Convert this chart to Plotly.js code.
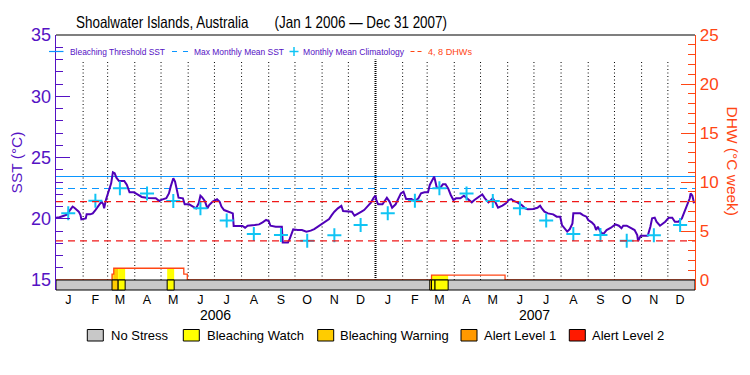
<!DOCTYPE html>
<html>
<head>
<meta charset="utf-8">
<script src="https://cdn.plot.ly/plotly-3.0.1.min.js"></script>
<style>html,body{margin:0;padding:0;background:#fff;}#chart{width:750px;height:375px;}</style>
</head>
<body>
<div id="chart"></div>
<script>
// ---------------- DATA ----------------
const sstDates = ['2006-01-01','2006-01-05','2006-01-10','2006-01-14','2006-01-17','2006-01-20','2006-01-22','2006-01-25','2006-01-27','2006-01-29','2006-01-30',
'2006-02-04','2006-02-05','2006-02-09','2006-02-12','2006-02-15','2006-02-19','2006-02-22','2006-02-24','2006-02-25','2006-02-27',
'2006-03-01','2006-03-03','2006-03-05','2006-03-07','2006-03-09','2006-03-11','2006-03-14','2006-03-20','2006-03-23','2006-03-26','2006-03-31',
'2006-04-04','2006-04-09','2006-04-16','2006-04-21','2006-04-25','2006-04-29',
'2006-05-02','2006-05-07','2006-05-10','2006-05-12','2006-05-15','2006-05-17','2006-05-19','2006-05-21','2006-05-26','2006-05-28',
'2006-06-02','2006-06-06','2006-06-10','2006-06-13','2006-06-15','2006-06-17','2006-06-20','2006-06-23','2006-06-25','2006-06-29',
'2006-07-04','2006-07-07','2006-07-09','2006-07-12','2006-07-16','2006-07-22','2006-07-23',
'2006-08-02','2006-08-05','2006-08-08','2006-08-16','2006-08-21','2006-08-25','2006-08-29',
'2006-09-01','2006-09-03','2006-09-09','2006-09-16','2006-09-17','2006-09-23','2006-09-25','2006-09-27','2006-09-29',
'2006-10-04','2006-10-09','2006-10-14','2006-10-19','2006-10-23','2006-10-29',
'2006-11-04','2006-11-09','2006-11-12','2006-11-15','2006-11-19','2006-11-23','2006-11-25','2006-11-30',
'2006-12-05','2006-12-08','2006-12-12','2006-12-16','2006-12-19','2006-12-23','2006-12-27','2006-12-30',
'2007-01-01','2007-01-02','2007-01-04','2007-01-09','2007-01-11','2007-01-14','2007-01-17','2007-01-20','2007-01-24','2007-01-27','2007-01-30',
'2007-02-02','2007-02-05','2007-02-11','2007-02-15','2007-02-19','2007-02-22','2007-02-26',
'2007-03-02','2007-03-04','2007-03-06','2007-03-09','2007-03-10','2007-03-12','2007-03-16','2007-03-19','2007-03-22','2007-03-25','2007-03-28','2007-03-31',
'2007-04-03','2007-04-08','2007-04-12','2007-04-16','2007-04-21','2007-04-24','2007-04-29',
'2007-05-03','2007-05-06','2007-05-10','2007-05-13','2007-05-15','2007-05-18','2007-05-21','2007-05-26','2007-05-30',
'2007-06-02','2007-06-05','2007-06-08','2007-06-12','2007-06-17','2007-06-21','2007-06-24','2007-06-30',
'2007-07-05','2007-07-08','2007-07-10','2007-07-13','2007-07-17','2007-07-23','2007-07-27','2007-07-31',
'2007-08-02','2007-08-05','2007-08-08','2007-08-11','2007-08-14','2007-08-15','2007-08-23','2007-08-26','2007-08-30',
'2007-09-01','2007-09-05','2007-09-08','2007-09-10','2007-09-12','2007-09-15','2007-09-18','2007-09-22','2007-09-27',
'2007-10-02','2007-10-06','2007-10-09','2007-10-11','2007-10-15','2007-10-19','2007-10-24','2007-10-27','2007-10-28','2007-10-31',
'2007-11-08','2007-11-11','2007-11-13','2007-11-16','2007-11-18','2007-11-22','2007-11-28',
'2007-12-02','2007-12-06','2007-12-09','2007-12-13','2007-12-17','2007-12-20','2007-12-23','2007-12-26','2007-12-27','2007-12-29','2007-12-31'];
const sstValues = [20.09,20.12,20.25,20.36,20.71,20.99,20.9,20.71,20.58,20.3,19.95,
20.03,20.36,20.36,20.44,20.71,21.12,21.4,21.18,20.85,21.53,
21.94,22.35,22.89,23.79,23.71,23.35,23.08,23.08,22.76,22.16,22.16,
21.99,21.78,21.69,21.69,21.67,21.45,
21.56,21.67,22.07,22.62,23.3,23.03,22.43,21.72,21.67,21.18,
21.18,20.99,20.85,21.26,21.88,21.75,21.45,20.85,21.12,21.4,
21.59,21.39,20.99,20.71,20.58,20.44,19.41,
19.41,19.27,19.43,19.49,19.54,19.71,19.9,
19.82,19.43,19.35,19.35,18.07,18.07,18.35,18.81,19.14,
19.08,19.08,18.95,19.03,19.16,19.43,
19.71,19.98,20.3,20.58,20.85,21.05,20.63,20.58,
20.58,20.25,20.39,20.58,20.71,20.99,21.34,21.72,
21.88,21.53,21.18,21.18,21.4,21.72,21.4,20.9,21.18,21.67,22.07,
22.21,21.61,21.61,21.45,21.67,22.07,22.16,
22.16,22.76,23.08,23.44,23.16,22.54,22.54,22.81,22.81,22.48,21.94,21.53,
21.67,21.67,21.88,21.67,21.34,21.53,21.8,
21.99,21.67,21.34,21.53,21.67,21.34,20.9,21.07,21.26,
21.53,21.61,21.45,21.34,21.12,20.85,20.77,20.8,
20.9,21.07,20.85,20.58,20.44,20.36,20.17,20.17,
19.49,19.22,18.95,19.16,19.62,20.44,20.44,20.3,20.17,
19.9,19.71,19.49,19.08,19.35,18.95,18.73,19.08,19.27,
19.54,19.43,19.22,19.43,19.43,19.27,19.08,18.67,18.18,18.62,
18.62,19.35,20.03,20.09,19.76,19.43,19.76,
20.09,20.09,19.76,19.76,20.03,20.58,21.18,21.67,22.07,21.88,21.26];

const climDates = ['2006-01-15','2006-02-15','2006-03-15','2006-04-15','2006-05-15','2006-06-15','2006-07-15','2006-08-15','2006-09-15','2006-10-15','2006-11-15','2006-12-15',
'2007-01-15','2007-02-15','2007-03-15','2007-04-15','2007-05-15','2007-06-15','2007-07-15','2007-08-15','2007-09-15','2007-10-15','2007-11-15','2007-12-15'];
const climValues = [20.44,21.47,22.49,22.07,21.45,20.85,19.86,18.75,18.67,18.2,18.66,19.48,
20.44,21.47,22.49,22.07,21.45,20.85,19.86,18.75,18.67,18.2,18.66,19.48];

const bleachingThreshold = 23.45;
const maxMonthlyMean = 22.47;
const dhwLevels = [4, 8];

const dhwDates = ['2006-01-01','2006-03-06','2006-03-08','2006-05-27','2006-05-31','2007-03-06','2007-05-29','2008-01-01'];
const dhwValues = [0, 0.6, 1.2, 0.6, 0, 0.5, 0, 0];

const stressStart = ['2006-03-06','2006-03-13','2006-05-08','2007-03-04','2007-03-06','2007-03-10'];
const stressEnd   = ['2006-03-13','2006-03-21','2006-05-16','2007-03-06','2007-03-10','2007-03-25'];
const stressLevel = [2, 1, 1, 2, 1, 1];

const stressNames = ['No Stress','Bleaching Watch','Bleaching Warning','Alert Level 1','Alert Level 2'];
const monthLetters = ['J','F','M','A','M','J','J','A','S','O','N','D','J','F','M','A','M','J','J','A','S','O','N','D'];
const monthStarts = ['2006-02-01','2006-03-01','2006-04-01','2006-05-01','2006-06-01','2006-07-01','2006-08-01','2006-09-01','2006-10-01','2006-11-01','2006-12-01',
'2007-01-01','2007-02-01','2007-03-01','2007-04-01','2007-05-01','2007-06-01','2007-07-01','2007-08-01','2007-09-01','2007-10-01','2007-11-01','2007-12-01'];
const yearLabels = ['2006','2007'];
const yearCenters = ['2006-07-02','2007-07-02'];
const titleText = 'Shoalwater Islands, Australia\u00a0\u00a0\u00a0\u00a0\u00a0\u00a0\u00a0(Jan 1 2006 \u2014 Dec 31 2007)';
const legendLabels = ['Bleaching Threshold SST','Max Monthly Mean SST','Monthly Mean Climatology','4, 8 DHWs'];

// ---------------- STYLE ----------------
const PURPLE = '#5512c4';
const LINEPURPLE = '#5000b8';
const ORANGE = '#ff4614';
const BLUE = '#0a96ff';
const CYAN = '#10c4f4';
const RED = '#f01818';
const stressColors = ['#c8c8c8','#ffff00','#ffcc00','#ff9900','#ff1a00'];
const FONT = 'Liberation Sans, Arial, sans-serif';

const L = 56, R = 695, T = 35, B = 290;
const xp = px => (px - L) / (R - L);
const yp = py => (B - py) / (B - T);
const X0 = '2006-01-01', X1 = '2008-01-01';

const sstMin = 15 - 20 * 10 / 245;
const dhwMin = -25 * 10 / 245;

// ---------------- TRACES ----------------
const traces = [];
traces.push({x:[X0,X1], y:[bleachingThreshold,bleachingThreshold], mode:'lines', line:{color:BLUE,width:1.2}, hoverinfo:'skip'});
traces.push({x:[X0,X1], y:[maxMonthlyMean,maxMonthlyMean], mode:'lines', line:{color:BLUE,width:1.2,dash:'7px,5px'}, hoverinfo:'skip'});
dhwLevels.forEach(v => traces.push({x:[X0,X1], y:[v,v], yaxis:'y2', mode:'lines', line:{color:RED,width:1.2,dash:'7px,5px'}, hoverinfo:'skip'}));
traces.push({x:dhwDates, y:dhwValues, yaxis:'y2', mode:'lines', line:{color:ORANGE,width:1.3,shape:'hv'}});
traces.push({x:sstDates, y:sstValues, mode:'lines', line:{color:LINEPURPLE,width:2}});
traces.push({x:climDates, y:climValues, mode:'markers', marker:{symbol:'cross-thin-open', size:10, line:{color:CYAN,width:2}, color:CYAN}});

// ---------------- SHAPES ----------------
const shapes = [];
monthStarts.forEach(d => {
  const yearLine = d.endsWith('01-01');
  shapes.push({type:'line', xref:'x', yref:'y', x0:d, x1:d, y0:15, y1:33, layer:'below',
    line:{color:'#000', width: yearLine ? 2 : 1, dash: yearLine ? '1px,1px' : '1px,2.5px'}});
});
const t = s => Date.parse(s);
stressStart.forEach((s, i) => {
  const a = t(s), b = t(stressEnd[i]);
  for (let k = 0; k < dhwDates.length - 1; k++) {
    const sa = Math.max(a, t(dhwDates[k])), sb = Math.min(b, t(dhwDates[k+1]));
    if (sb > sa && dhwValues[k] > 0) {
      shapes.push({type:'rect', xref:'x', yref:'y2', x0:new Date(sa).toISOString(), x1:new Date(sb).toISOString(),
        y0:0, y1:dhwValues[k], fillcolor:stressColors[stressLevel[i]], line:{width:0}, layer:'below'});
    }
  }
});
shapes.push({type:'rect', xref:'x', yref:'paper', x0:X0, x1:X1, y0:0, y1:yp(280), fillcolor:stressColors[0], line:{color:'#000',width:1}, layer:'above'});
stressStart.forEach((s, i) => {
  shapes.push({type:'rect', xref:'x', yref:'paper', x0:s, x1:stressEnd[i], y0:0, y1:yp(280), fillcolor:stressColors[stressLevel[i]], line:{color:'#000',width:1}, layer:'above'});
});
shapes.push({type:'line', xref:'paper', yref:'paper', x0:0, x1:1, y0:1, y1:1, line:{color:'#000',width:1.2}});

const ly = yp(51.5);
shapes.push({type:'line', xref:'paper', yref:'paper', x0:xp(49), x1:xp(63.5), y0:ly, y1:ly, line:{color:BLUE,width:1.2}});
shapes.push({type:'line', xref:'paper', yref:'paper', x0:xp(172), x1:xp(188.5), y0:ly, y1:ly, line:{color:BLUE,width:1.2,dash:'5px,6px'}});
shapes.push({type:'line', xref:'paper', yref:'paper', x0:xp(289.5), x1:xp(298.5), y0:ly, y1:ly, line:{color:CYAN,width:1.5}});
shapes.push({type:'line', xref:'paper', yref:'paper', x0:xp(294), x1:xp(294), y0:yp(47), y1:yp(56), line:{color:CYAN,width:1.5}});
shapes.push({type:'line', xref:'paper', yref:'paper', x0:xp(410.5), x1:xp(422), y0:ly, y1:ly, line:{color:ORANGE,width:1.2,dash:'4px,3px'}});

const boxX = [87.3, 183.3, 317.7, 461, 569.3];
const textX = [109, 204.7, 338.3, 482.3, 590];
boxX.forEach((bx, i) => {
  shapes.push({type:'rect', xref:'paper', yref:'paper', x0:xp(bx), x1:xp(bx+16), y0:yp(341), y1:yp(329.5), fillcolor:stressColors[i], line:{color:'#000',width:1}});
});

// ---------------- ANNOTATIONS ----------------
const ann = [];
const legX = [67.5, 191.5, 300.5, 426];
const legW = [95, 90, 101, 44];
const legC = [PURPLE, PURPLE, PURPLE, ORANGE];
legendLabels.forEach((txt, i) => ann.push({xref:'paper', yref:'paper', x:xp(legX[i]), y:yp(51.5), xanchor:'left', yanchor:'middle',
  width:legW[i] + 2, align:'left', showarrow:false, text:txt, font:{family:FONT, size:9.5, color:legC[i]}}));
stressNames.forEach((n, i) => ann.push({xref:'paper', yref:'paper', x:xp(textX[i]), y:yp(335.5), xanchor:'left', yanchor:'middle', showarrow:false, text:n, font:{family:FONT, size:13, color:'#000'}}));
yearLabels.forEach((yl, i) => ann.push({xref:'x', yref:'paper', x:yearCenters[i], y:yp(315), xanchor:'center', yanchor:'middle', showarrow:false, text:yl, font:{family:FONT, size:14, color:'#000'}}));
ann.push({xref:'paper', yref:'paper', x:xp(732), y:yp(161.5), xanchor:'center', yanchor:'middle', showarrow:false, textangle:90, text:'DHW (°C week)', font:{family:FONT, size:15.5, color:ORANGE}});

const minorDhw = [];
for (let v = 1; v < 25; v++) if (v % 5) minorDhw.push(v);

const layout = {
  width:750, height:375,
  margin:{l:L, r:750-R, t:T, b:375-B, pad:0},
  paper_bgcolor:'#fff', plot_bgcolor:'#fff',
  showlegend:false,
  font:{family:FONT},
  title:{text:titleText, xref:'container', yref:'container', x:76/750, xanchor:'left', y:1-22/375, yanchor:'middle',
    font:{family:FONT, size:16.5, color:'#000'}},
  xaxis:{type:'date', range:[X0,X1], tickmode:'array', tickvals:climDates, ticktext:monthLetters,
    ticks:'', showgrid:false, zeroline:false, showline:false, tickangle:0,
    tickfont:{family:FONT, size:12.5, color:'#000'}},
  yaxis:{range:[sstMin,35], tickmode:'linear', tick0:0, dtick:5, ticks:'inside', ticklen:14, tickwidth:1, tickcolor:PURPLE,
    showline:true, linecolor:PURPLE, linewidth:1.3, showgrid:false, zeroline:false,
    tickfont:{family:FONT, size:18, color:PURPLE},
    minor:{tickmode:'linear', tick0:0, dtick:1, ticks:'inside', ticklen:7, tickwidth:1, tickcolor:PURPLE, showgrid:false},
    title:{text:'SST (°C)', font:{family:FONT, size:15.5, color:PURPLE}, standoff:4}},
  yaxis2:{overlaying:'y', side:'right', range:[dhwMin,25], tickmode:'linear', tick0:0, dtick:5, ticks:'inside', ticklen:14, tickwidth:1, tickcolor:ORANGE,
    showline:true, linecolor:ORANGE, linewidth:1.3, showgrid:false, zeroline:false,
    tickfont:{family:FONT, size:17, color:ORANGE},
    minor:{tickmode:'array', tickvals:minorDhw, ticks:'inside', ticklen:7, tickwidth:1, tickcolor:ORANGE, showgrid:false}},
  shapes:shapes,
  annotations:ann
};

Plotly.newPlot('chart', traces, layout, {staticPlot:true, displayModeBar:false}).then(gd => {
  // condense the texts to the widths of the original narrow font
  const fit = (el, w) => { if (el) { el.setAttribute('textLength', w); el.setAttribute('lengthAdjust', 'spacingAndGlyphs'); } };
  fit(gd.querySelector('.gtitle'), 371);
  gd.querySelectorAll('.annotation-text').forEach(el => {
    const i = legendLabels.indexOf(el.textContent);
    if (i >= 0) fit(el, legW[i]);
  });
});
</script>
</body>
</html>
